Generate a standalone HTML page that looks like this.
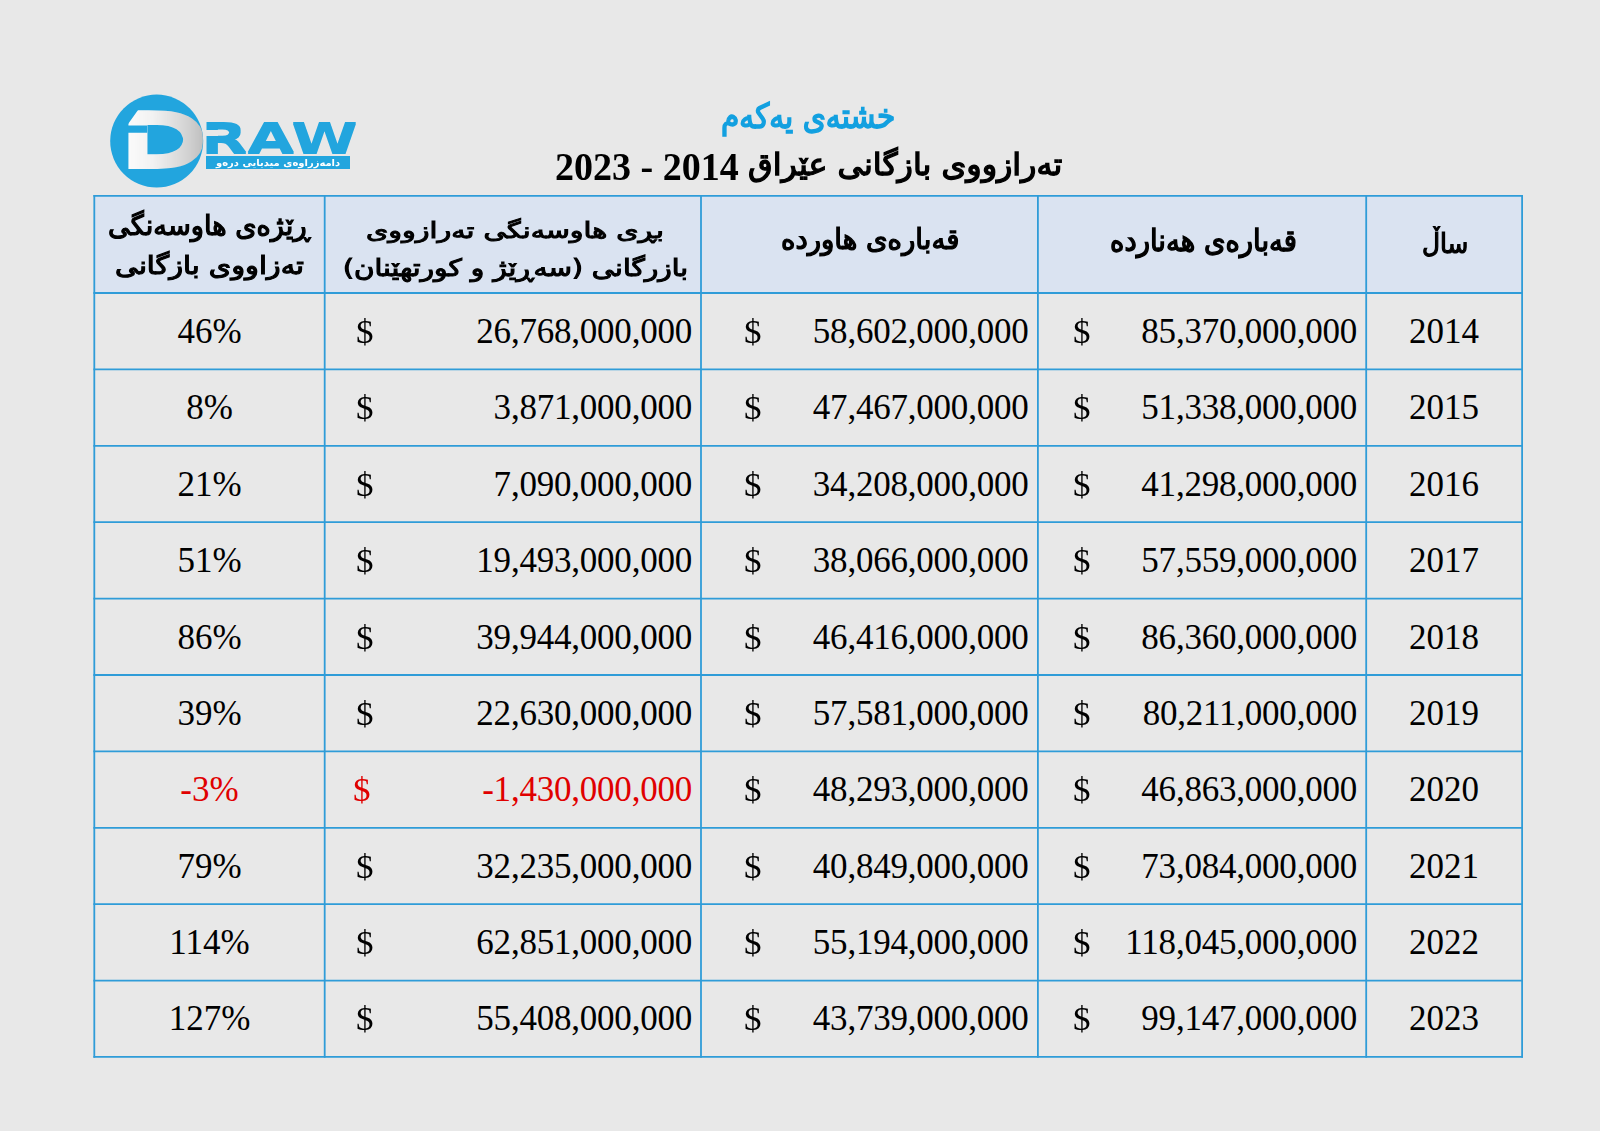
<!DOCTYPE html>
<html lang="ckb">
<head>
<meta charset="utf-8">
<title>خشتەی یەکەم</title>
<style>
*{margin:0;padding:0;box-sizing:border-box}
html,body{width:1600px;height:1131px;overflow:hidden}
body{background:#e8e8e8;position:relative;font-family:"Liberation Serif","DejaVu Sans",serif;color:#000}
.ft{position:absolute;left:0;top:0;white-space:nowrap;line-height:1;transform-origin:0 0}
.k{font-family:"DejaVu Sans Condensed","DejaVu Sans",sans-serif;font-weight:normal;-webkit-text-stroke-width:1.2px;direction:rtl;font-size:28px;color:#000}
.r{position:absolute;left:0;width:1600px;font-family:"Liberation Serif",serif;font-size:35px}
.r span{position:absolute;top:50%;line-height:40px;margin-top:-20px;white-space:nowrap}
.yr{left:1367px;width:154px;text-align:center}
.pc{left:95px;width:229px;text-align:center}
.d{transform:scaleY(0.935);transform-origin:50% 34px}
.d1{left:1073px}.d2{left:744px}.d3{left:356px}
.nm{letter-spacing:-0.22px}
.n1{right:243px}.n2{right:571.5px}.n3{right:908px}
.red{color:#e00000}
.lgR{font-family:"DejaVu Sans",sans-serif;font-weight:bold;font-size:44px;color:#22a5de;filter:url(#rm)}
.lgcut{position:absolute;left:205px;top:129.6px;width:13px;height:6.6px;background:#e8e8e8}
.lgbar{position:absolute;left:206.3px;top:156.2px;width:143.4px;height:13.1px;background:#22a5de}
.lgS{font-family:"DejaVu Sans",sans-serif;font-weight:bold;font-size:12px;color:#ffffff;direction:rtl}
.t1{font-family:"DejaVu Sans Condensed","DejaVu Sans",sans-serif;font-weight:normal;-webkit-text-stroke-width:1.3px;font-size:30px;color:#12a0e0;direction:rtl}
.t2{font-family:"DejaVu Sans Condensed","DejaVu Sans",sans-serif;font-weight:normal;-webkit-text-stroke-width:1.3px;font-size:32px;color:#000;direction:rtl}
.t2n{font-family:"Liberation Serif",serif;font-weight:bold;font-size:39px;color:#000;direction:rtl}
/*FIT*/
#t1{left:721.41px;top:99.0px;transform:scale(1.0949,1.1484)}
#t2a{left:748.3px;top:149.23px;transform:scale(1.1021,0.9658)}
#t2b{left:555.03px;top:147.25px;transform:scale(0.9743,1.0077)}
#h1{left:1421.82px;top:230.93px;transform:scale(0.9822,0.9667)}
#h2{left:1110.11px;top:226.41px;transform:scale(1.0911,1.0862)}
#h3{left:780.81px;top:226.48px;transform:scale(1.0944,1.02)}
#h4a{left:365.87px;top:219.66px;transform:scale(1.1298,0.7853)}
#h4b{left:342.79px;top:255.75px;transform:scale(1.111,0.85)}
#h5a{left:107.62px;top:212.28px;transform:scale(1.0814,0.9941)}
#h5b{left:114.66px;top:253.03px;transform:scale(1.137,0.9088)}
#lgR{left:201.22px;top:119.36px;transform:scale(1.3697,0.9143)}
#lgS{left:216.03px;top:157.78px;transform:scale(0.8313,0.8167)}
/*ENDFIT*/
</style>
</head>
<body>
<div class="ft t1" id="t1">خشتەی یەکەم</div>
<div class="ft t2" id="t2a">تەرازووی بازگانی عێراق</div>
<div class="ft t2n" id="t2b">2014 - 2023</div>
<svg id="logo" width="210" height="195" viewBox="0 0 210 195" style="position:absolute;left:0;top:0">
<defs>
<linearGradient id="dg" x1="0" x2="1" y1="0" y2="0"><stop offset="0" stop-color="#ffffff"/><stop offset="0.4" stop-color="#f1f1f1"/><stop offset="0.75" stop-color="#d4d4d4"/><stop offset="1" stop-color="#b8b8b8"/></linearGradient>
<filter id="rm" x="-5%" y="-20%" width="110%" height="140%"><feMorphology operator="dilate" radius="0 1.2"/></filter>
<filter id="dm" x="-10%" y="-10%" width="120%" height="120%"><feMorphology operator="dilate" radius="0 2" result="a"/><feMorphology in="a" operator="erode" radius="1 0"/></filter>
</defs>
<circle cx="156.7" cy="141.1" r="46.5" fill="#22a5de"/>
<text id="lgD" transform="matrix(1.393 0 0 0.941 117.25 167.1)" x="0" y="0" font-family="DejaVu Sans, sans-serif" font-weight="bold" font-size="80" fill="url(#dg)" filter="url(#dm)">D</text>
<path d="M127 109.5 L138.4 109.5 L127 125.5 Z M127 125.4 L147.2 125.4 L147.2 132.7 L127 132.7 Z" fill="#22a5de"/>
</svg>
<div class="ft lgR" id="lgR">RAW</div>
<div class="lgcut"></div>
<div class="lgbar"></div>
<div class="ft lgS" id="lgS">دامەزراوەی میدیایی درەو</div>
<svg id="grid" width="1600" height="1131" viewBox="0 0 1600 1131" style="position:absolute;left:0;top:0">
<rect x="94.3" y="195.85" width="1427.80" height="97.15" fill="#dae3f1"/>
<g stroke="#2f9cd8" stroke-width="1.8">
<line x1="94.3" y1="194.95" x2="94.3" y2="1057.85"/>
<line x1="324.7" y1="194.95" x2="324.7" y2="1057.85"/>
<line x1="701" y1="194.95" x2="701" y2="1057.85"/>
<line x1="1037.9" y1="194.95" x2="1037.9" y2="1057.85"/>
<line x1="1366.2" y1="194.95" x2="1366.2" y2="1057.85"/>
<line x1="1522.1" y1="194.95" x2="1522.1" y2="1057.85"/>
<line x1="93.40" y1="195.85" x2="1523.00" y2="195.85"/>
<line x1="93.40" y1="293.00" x2="1523.00" y2="293.00"/>
<line x1="93.40" y1="369.40" x2="1523.00" y2="369.40"/>
<line x1="93.40" y1="445.80" x2="1523.00" y2="445.80"/>
<line x1="93.40" y1="522.20" x2="1523.00" y2="522.20"/>
<line x1="93.40" y1="598.60" x2="1523.00" y2="598.60"/>
<line x1="93.40" y1="675.00" x2="1523.00" y2="675.00"/>
<line x1="93.40" y1="751.40" x2="1523.00" y2="751.40"/>
<line x1="93.40" y1="827.80" x2="1523.00" y2="827.80"/>
<line x1="93.40" y1="904.20" x2="1523.00" y2="904.20"/>
<line x1="93.40" y1="980.60" x2="1523.00" y2="980.60"/>
<line x1="93.40" y1="1056.95" x2="1523.00" y2="1056.95"/>
</g>
</svg>
<!-- headers -->
<div class="ft k" id="h1">ساڵ</div>
<div class="ft k" id="h2">قەبارەی هەنارده</div>
<div class="ft k" id="h3">قەبارەی هاورده</div>
<div class="ft k" id="h4a">بڕی هاوسەنگی تەرازووی</div>
<div class="ft k" id="h4b">بازرگانی (سەڕێژ و کورتهێنان)</div>
<div class="ft k" id="h5a">ڕێژەی هاوسەنگی</div>
<div class="ft k" id="h5b">تەزاووی بازگانی</div>

<!--ROWS-->
<div class="r" style="top:294px;height:75px">
<span class="yr">2014</span>
<span class="d d1">$</span><span class="nm n1">85,370,000,000</span>
<span class="d d2">$</span><span class="nm n2">58,602,000,000</span>
<span class="d d3">$</span><span class="nm n3">26,768,000,000</span>
<span class="pc">46%</span>
</div>
<div class="r" style="top:371px;height:74px">
<span class="yr">2015</span>
<span class="d d1">$</span><span class="nm n1">51,338,000,000</span>
<span class="d d2">$</span><span class="nm n2">47,467,000,000</span>
<span class="d d3">$</span><span class="nm n3">3,871,000,000</span>
<span class="pc">8%</span>
</div>
<div class="r" style="top:447px;height:75px">
<span class="yr">2016</span>
<span class="d d1">$</span><span class="nm n1">41,298,000,000</span>
<span class="d d2">$</span><span class="nm n2">34,208,000,000</span>
<span class="d d3">$</span><span class="nm n3">7,090,000,000</span>
<span class="pc">21%</span>
</div>
<div class="r" style="top:524px;height:74px">
<span class="yr">2017</span>
<span class="d d1">$</span><span class="nm n1">57,559,000,000</span>
<span class="d d2">$</span><span class="nm n2">38,066,000,000</span>
<span class="d d3">$</span><span class="nm n3">19,493,000,000</span>
<span class="pc">51%</span>
</div>
<div class="r" style="top:600px;height:75px">
<span class="yr">2018</span>
<span class="d d1">$</span><span class="nm n1">86,360,000,000</span>
<span class="d d2">$</span><span class="nm n2">46,416,000,000</span>
<span class="d d3">$</span><span class="nm n3">39,944,000,000</span>
<span class="pc">86%</span>
</div>
<div class="r" style="top:677px;height:74px">
<span class="yr">2019</span>
<span class="d d1">$</span><span class="nm n1">80,211,000,000</span>
<span class="d d2">$</span><span class="nm n2">57,581,000,000</span>
<span class="d d3">$</span><span class="nm n3">22,630,000,000</span>
<span class="pc">39%</span>
</div>
<div class="r" style="top:753px;height:74px">
<span class="yr">2020</span>
<span class="d d1">$</span><span class="nm n1">46,863,000,000</span>
<span class="d d2">$</span><span class="nm n2">48,293,000,000</span>
<span class="d d3 red" style="left:353px">$</span><span class="nm n3 red">-1,430,000,000</span>
<span class="pc red">-3%</span>
</div>
<div class="r" style="top:829px;height:75px">
<span class="yr">2021</span>
<span class="d d1">$</span><span class="nm n1">73,084,000,000</span>
<span class="d d2">$</span><span class="nm n2">40,849,000,000</span>
<span class="d d3">$</span><span class="nm n3">32,235,000,000</span>
<span class="pc">79%</span>
</div>
<div class="r" style="top:906px;height:74px">
<span class="yr">2022</span>
<span class="d d1">$</span><span class="nm n1">118,045,000,000</span>
<span class="d d2">$</span><span class="nm n2">55,194,000,000</span>
<span class="d d3">$</span><span class="nm n3">62,851,000,000</span>
<span class="pc">114%</span>
</div>
<div class="r" style="top:982px;height:74px">
<span class="yr">2023</span>
<span class="d d1">$</span><span class="nm n1">99,147,000,000</span>
<span class="d d2">$</span><span class="nm n2">43,739,000,000</span>
<span class="d d3">$</span><span class="nm n3">55,408,000,000</span>
<span class="pc">127%</span>
</div>
<!--/ROWS-->
</body>
</html>
